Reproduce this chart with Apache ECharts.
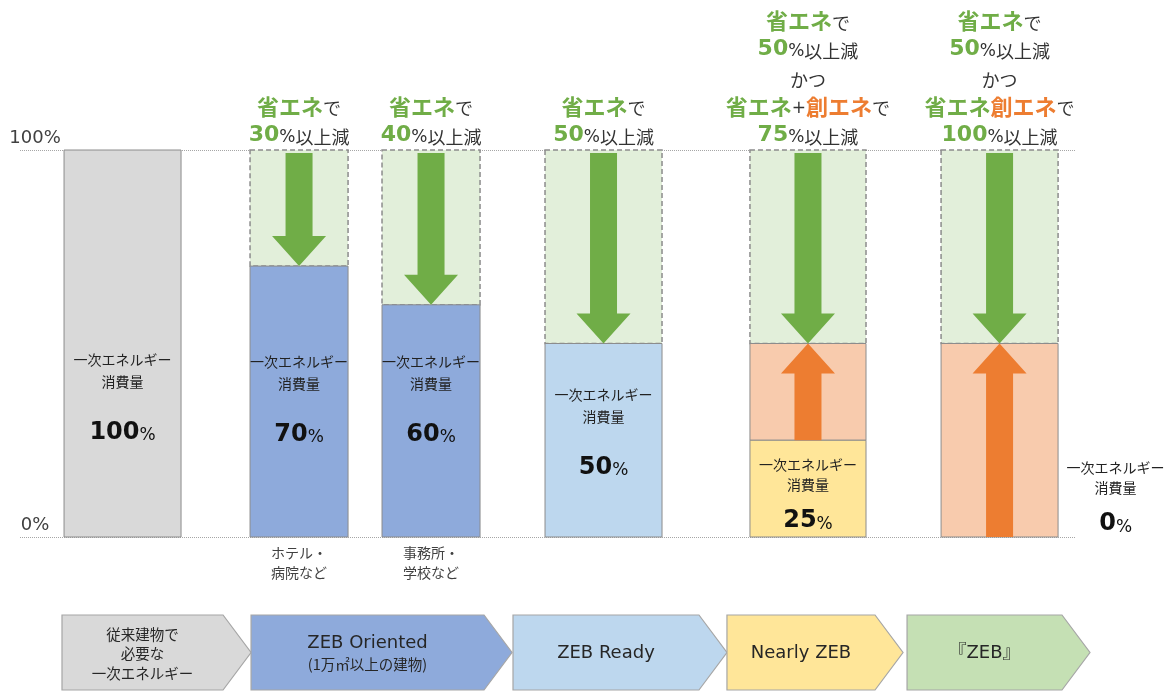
<!DOCTYPE html>
<html>
<head>
<meta charset="utf-8">
<script src="https://cdn.jsdelivr.net/npm/echarts@6/dist/echarts.min.js"></script>
<style>
  html, body { margin: 0; padding: 0; background: #fff; }
  #main { width: 1174px; height: 692px; }
</style>
</head>
<body>
<div id="main"></div>
<script>
// 一次エネルギー消費量（基準建物 = 100%）
const stages = ['従来建物', 'ZEB Oriented（ホテル・病院など）', 'ZEB Oriented（事務所・学校など）', 'ZEB Ready', 'Nearly ZEB', '『ZEB』'];
const consumption = [100, 70, 60, 50, 25, 0];   // 残る消費量
const saving = [0, 30, 40, 50, 50, 50];          // 省エネで削減
const creation = [0, 0, 0, 0, 25, 50];           // 創エネで削減
const yTicks = [0, 100];
const subLabels = ['', 'ホテル・\n病院など', '事務所・\n学校など', '', '', ''];
const steps = ['従来建物で\n必要な\n一次エネルギー', 'ZEB Oriented\n(1万㎡以上の建物)', 'ZEB Ready', 'Nearly ZEB', '『ZEB』'];

// レイアウト（x軸は 0〜100 の単位）
const colCenter = [9.72, 26.45, 38.96, 55.31, 74.69, 92.85];
const colWidth = [11.09, 9.29, 9.29, 11.09, 11.0, 11.09];
const labelTop = [48.7, 48.2, 48.2, 39.7, 21.2, 20.4];
const labelShift = [0, 0, 0, 0, 0, 11];
const stepSpan = [[3.98, 21.9], [21.9, 46.64], [46.73, 67.01], [67.01, 83.7], [84.08, 101.42]];
const colFill = ['#d9d9d9', '#8eaadb', '#8eaadb', '#bdd7ee', '#ffe699', '#ffe699'];
const stepFill = ['#d9d9d9', '#8eaadb', '#bdd7ee', '#ffe699', '#c5e0b4'];

const JP = "'Noto Sans CJK JP', sans-serif";
const DV = "'DejaVu Sans', 'Noto Sans CJK JP', sans-serif";
const GREEN = '#70ad47', ORANGE = '#ed7d31';

const bodyRich = {
  s: { fontSize: 14, lineHeight: 22, fontFamily: JP, fill: '#222' },
  c: { fontSize: 14, lineHeight: 20, fontFamily: JP, fill: '#222' },
  gap: { fontSize: 4, lineHeight: 22 },
  gap2: { fontSize: 4, lineHeight: 8 },
  n: { fontSize: 24, lineHeight: 30, fontWeight: 'bold', fontFamily: DV, fill: '#111', verticalAlign: 'bottom' },
  p: { fontSize: 17, lineHeight: 30, fontFamily: DV, fill: '#111', verticalAlign: 'bottom' }
};
const headRich = {
  g: { fontSize: 22, lineHeight: 28.5, fontWeight: 'bold', fontFamily: JP, fill: GREEN, verticalAlign: 'bottom' },
  o: { fontSize: 22, lineHeight: 28.5, fontWeight: 'bold', fontFamily: JP, fill: ORANGE, verticalAlign: 'bottom' },
  k: { fontSize: 18, lineHeight: 28.5, fontFamily: JP, fill: '#333', verticalAlign: 'bottom' },
  q: { fontSize: 17, lineHeight: 28.5, fontFamily: DV, fill: '#333', verticalAlign: 'bottom' },
  n: { fontSize: 22, lineHeight: 28.5, fontWeight: 'bold', fontFamily: DV, fill: GREEN, verticalAlign: 'bottom' }
};

function arrow(x, yFrom, yTo, color) {
  const dir = yTo > yFrom ? 1 : -1;
  const s = 13.5, h = 27, hh = 30;
  const yb = yTo - dir * hh;
  return {
    type: 'polygon',
    shape: { points: [[x - s, yFrom], [x + s, yFrom], [x + s, yb], [x + h, yb], [x, yTo], [x - h, yb], [x - s, yb]] },
    style: { fill: color }
  };
}

function headText(i) {
  const c = consumption[i], cr = creation[i];
  let t = '{g|省エネ}{k|で}\n{n|' + saving[i] + '}{q|%}{k|以上減}';
  if (cr > 0) {
    t += '\n{k|かつ}\n{g|省エネ}' + (c > 0 ? '{q|+}' : '') + '{o|創エネ}{k|で}\n{n|' + (100 - c) + '}{q|%}{k|以上減}';
  }
  return t;
}

function renderColumn(params, api) {
  const i = params.dataIndex;
  const cx = api.value(0), c = api.value(1), cr = api.value(2);
  const hw = colWidth[i] / 2;
  const top = c + cr;
  const P = (x, y) => api.coord([x, y]);
  const rect = (y0, y1, style) => {
    const a = P(cx - hw, y1), b = P(cx + hw, y0);
    return { type: 'rect', shape: { x: a[0], y: a[1], width: b[0] - a[0], height: b[1] - a[1] }, style };
  };
  const kids = [];
  if (top < 100) kids.push(rect(top, 100, { fill: '#e2efda', stroke: '#8c8c8c', lineWidth: 1.5, lineDash: [5, 3] }));
  if (cr > 0) kids.push(rect(c, top, { fill: '#f8cbad', stroke: '#8c8c8c', lineWidth: 1 }));
  if (c > 0) kids.push(rect(0, c, { fill: colFill[i], stroke: '#8c8c8c', lineWidth: 1 }));

  const xm = P(cx, 0)[0];
  if (top < 100) kids.push(arrow(xm, P(cx, 100)[1] + 3, P(cx, top)[1], GREEN));
  if (cr > 0) kids.push(arrow(xm, P(cx, c)[1], P(cx, top)[1], ORANGE));

  // 消費量ラベル
  const compact = c < 40;
  const body = (compact ? '{c|一次エネルギー}\n{c|消費量}\n{gap2| }\n' : '{s|一次エネルギー}\n{s|消費量}\n{gap| }\n')
    + '{n|' + c + '}{p|%}';
  kids.push({
    type: 'text',
    x: P(cx + labelShift[i], 0)[0],
    y: P(cx, labelTop[i])[1],
    style: { text: body, rich: bodyRich, align: 'center', verticalAlign: 'top' }
  });

  // 上部の説明
  if (top < 100) {
    kids.push({
      type: 'text',
      x: xm,
      y: P(cx, 100)[1] - 4,
      style: { text: headText(i), rich: headRich, align: 'center', verticalAlign: 'bottom' }
    });
  }

  if (subLabels[i]) {
    kids.push({
      type: 'text',
      x: xm,
      y: P(cx, 0)[1] + 6,
      style: { text: subLabels[i], fontSize: 14, lineHeight: 20, fontFamily: JP, fill: '#404040', align: 'center', verticalAlign: 'top' }
    });
  }
  return { type: 'group', children: kids };
}

function renderStep(params, api) {
  const i = params.dataIndex;
  const a = api.coord([api.value(0), 1]), b = api.coord([api.value(1), 0]);
  const d = 28, ym = (a[1] + b[1]) / 2;
  const txt = steps[i].split('\n').map(l => (/ZEB/.test(l) ? '{t|' : '{j|') + l + '}').join('\n');
  return {
    type: 'group',
    children: [
      {
        type: 'polygon',
        shape: { points: [[a[0], a[1]], [b[0] - d, a[1]], [b[0], ym], [b[0] - d, b[1]], [a[0], b[1]]] },
        style: { fill: stepFill[i], stroke: '#a6a6a6', lineWidth: 1.2 }
      },
      {
        type: 'text',
        x: (a[0] + b[0] - d) / 2,
        y: ym + 1,
        style: {
          text: txt, align: 'center', verticalAlign: 'middle',
          rich: {
            t: { fontSize: 18, lineHeight: 22, fontFamily: DV, fill: '#262626' },
            j: { fontSize: 14.5, lineHeight: 19.5, fontFamily: JP, fill: '#262626' }
          }
        }
      }
    ]
  };
}

const chart = echarts.init(document.getElementById('main'));

const option = {
  animation: false,
  backgroundColor: '#fff',
  grid: [
    { left: 20, right: 99, top: 150, bottom: 155, outerBoundsMode: 'none' },
    { left: 20, right: 99, top: 615, height: 75, outerBoundsMode: 'none' }
  ],
  xAxis: [
    { type: 'value', gridIndex: 0, min: 0, max: 100, show: false },
    { type: 'value', gridIndex: 1, min: 0, max: 100, show: false }
  ],
  yAxis: [
    {
      type: 'value', gridIndex: 0, min: yTicks[0], max: yTicks[1], interval: 100,
      axisLine: { show: false }, axisTick: { show: false },
      splitLine: { lineStyle: { color: '#a6a6a6', type: 'dotted', width: 1 } },
      axisLabel: {
        inside: true, margin: 15, align: 'center', verticalAlign: 'bottom',
        padding: [0, 0, 3, 0], formatter: '{value}%',
        fontSize: 18, fontFamily: DV, color: '#404040'
      }
    },
    { type: 'value', gridIndex: 1, min: 0, max: 1, show: false }
  ],
  series: [
    {
      name: '一次エネルギー消費量',
      type: 'custom',
      xAxisIndex: 0, yAxisIndex: 0,
      clip: false, silent: true,
      renderItem: renderColumn,
      data: consumption.map((c, i) => [colCenter[i], c, creation[i]])
    },
    {
      name: '段階',
      type: 'custom',
      xAxisIndex: 1, yAxisIndex: 1,
      clip: false, silent: true,
      renderItem: renderStep,
      data: steps.map((s, i) => [stepSpan[i][0], stepSpan[i][1]])
    }
  ]
};

chart.setOption(option);
</script>
</body>
</html>
